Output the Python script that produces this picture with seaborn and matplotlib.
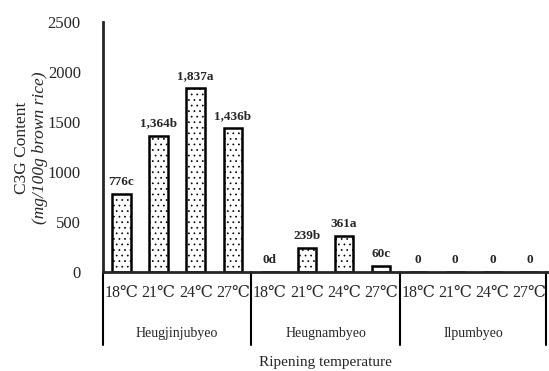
import matplotlib

matplotlib.use("Agg")
import matplotlib.pyplot as plt
import matplotlib.transforms as mtransforms
import pandas as pd
import seaborn as sns

# Data
varieties = ["Heugjinjubyeo", "Heugnambyeo", "Ilpumbyeo"]
temps = ["18\u2103", "21\u2103", "24\u2103", "27\u2103"]
c3g = [776, 1364, 1837, 1436, 0, 239, 361, 60, 0, 0, 0, 0]
bar_labels = ["776c", "1,364b", "1,837a", "1,436b",
              "0d", "239b", "361a", "60c",
              "0", "0", "0", "0"]

df = pd.DataFrame({
    "variety": [v for v in varieties for _ in temps],
    "temp": temps * len(varieties),
    "c3g": c3g,
})
df["key"] = df["variety"] + " " + df["temp"]

sns.set_style("white")
plt.rcParams["font.family"] = ["Liberation Serif", "DejaVu Serif"]
plt.rcParams["hatch.linewidth"] = 0.5

fig = plt.figure(figsize=(5.49, 3.71), dpi=100)
ax = fig.add_axes([0.1876, 0.2668, 0.8106, 0.674])

sns.barplot(data=df, x="key", y="c3g", order=list(df["key"]), color="white",
            edgecolor="black", linewidth=1.8, width=0.5, hatch="...",
            saturation=1, ax=ax)

for i, (v, lab) in enumerate(zip(c3g, bar_labels)):
    ax.text(i, v + 60, lab, ha="center", va="bottom", fontsize=9.5,
            fontweight="bold")

ax.set_xlim(-0.5, len(c3g) - 0.5)
ax.set_ylim(0, 2500)
ax.set_yticks(range(0, 2501, 500))
ax.tick_params(axis="y", labelsize=12, length=0, pad=16)
ax.set_xticks(range(len(c3g)))
ax.set_xticklabels(df["temp"], fontsize=11.5)
ax.tick_params(axis="x", length=0, pad=9)

for s in ["top", "right"]:
    ax.spines[s].set_visible(False)
ax.spines["left"].set_linewidth(2)
ax.spines["bottom"].set_linewidth(2)

# group separators below the axis
trans = mtransforms.blended_transform_factory(ax.transData, ax.transAxes)
for b in [-0.5, 3.5, 7.5, 11.45]:
    ax.plot([b, b], [0, -0.29], color="black", lw=1.5, transform=trans,
            clip_on=False)
for g, name in enumerate(varieties):
    ax.text(g * 4 + 1.5, -0.245, name, transform=trans, ha="center",
            va="center", fontsize=10)

ax.set_xlabel("Ripening temperature", fontsize=11, labelpad=40)
ax.set_ylabel("")
fig.text(0.040, 0.601, "C3G Content", rotation=90, ha="center",
         va="center", fontsize=12.5)
fig.text(0.073, 0.601, "(mg/100g brown rice)", rotation=90, ha="center",
         va="center", fontsize=12.5, style="italic")

fig.savefig("out.png", dpi=100)
